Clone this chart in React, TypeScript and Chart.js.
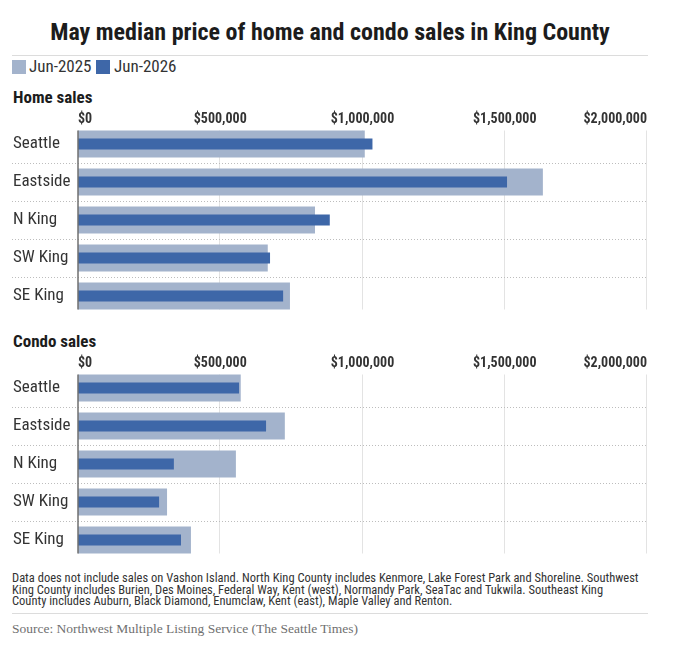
import React, { useEffect, useRef } from "react";
import { Chart, registerables } from "chart.js";

Chart.register(...registerables);

const categories = ["Seattle", "Eastside", "N King", "SW King", "SE King"];
const seriesLabels = ["Jun-2025", "Jun-2026"];
const homeJun2025 = [1008000, 1634000, 833000, 667000, 745000];
const homeJun2026 = [1035000, 1508000, 885000, 675000, 721000];
const condoJun2025 = [572000, 727000, 555000, 313000, 397000];
const condoJun2026 = [566000, 661000, 337000, 285000, 362000];
const xTicks = [0, 500000, 1000000, 1500000, 2000000];

const footLines = [
  "Data does not include sales on Vashon Island. North King County includes Kenmore, Lake Forest Park and Shoreline. Southwest",
  "King County includes Burien, Des Moines, Federal Way, Kent (west), Normandy Park, SeaTac and Tukwila. Southeast King",
  "County includes Auburn, Black Diamond, Enumclaw, Kent (east), Maple Valley and Renton.",
];
const sourceText = "Source: Northwest Multiple Listing Service (The Seattle Times)";
const titleText = "May median price of home and condo sales in King County";

const LIGHT = "#a3b3cc";
const DARK = "#3e67a8";
const NARROW =
  "'Liberation Sans Narrow', 'Roboto Condensed', 'DejaVu Sans Condensed', Roboto, sans-serif";

// Draws value gridlines (spanning the bars only), category separators and the zero axis,
// all positioned through the chart's own scales and bar elements.
const gridPlugin = {
  id: "customGrid",
  beforeDatasetsDraw(chart: any) {
    const { ctx, chartArea, scales } = chart;
    const x = scales.x;
    const y = scales.y;
    const meta = chart.getDatasetMeta(1);
    const first = meta.data[0];
    const last = meta.data[meta.data.length - 1];
    const top = first.y - first.height / 2;
    const bottom = last.y + last.height / 2;
    ctx.save();
    ctx.strokeStyle = "#e3e3e3";
    ctx.lineWidth = 1;
    xTicks.forEach((v) => {
      if (v === 0) return;
      const px = Math.round(x.getPixelForValue(v)) - 0.5;
      ctx.beginPath();
      ctx.moveTo(px, top);
      ctx.lineTo(px, bottom);
      ctx.stroke();
    });
    ctx.strokeStyle = "#bdbdbd";
    ctx.setLineDash([1, 2]);
    for (let i = 1; i < categories.length; i++) {
      const py = Math.round((y.getPixelForValue(i - 1) + y.getPixelForValue(i)) / 2) + 0.5;
      ctx.beginPath();
      ctx.moveTo(y.left - 1, py);
      ctx.lineTo(chartArea.right, py);
      ctx.stroke();
    }
    ctx.restore();
  },
  afterDatasetsDraw(chart: any) {
    const { ctx, scales } = chart;
    const x = scales.x;
    const meta = chart.getDatasetMeta(1);
    const first = meta.data[0];
    const last = meta.data[meta.data.length - 1];
    const px = x.getPixelForValue(0);
    ctx.save();
    ctx.strokeStyle = "#6f6f6f";
    ctx.lineWidth = 1.5;
    ctx.beginPath();
    ctx.moveTo(px, first.y - first.height / 2);
    ctx.lineTo(px, last.y + last.height / 2);
    ctx.stroke();
    ctx.restore();
  },
};

function Panel({ older, newer, top }: { older: number[]; newer: number[]; top: number }) {
  const ref = useRef<HTMLCanvasElement | null>(null);
  useEffect(() => {
    if (!ref.current) return;
    const chart = new Chart(ref.current, {
      type: "bar",
      data: {
        labels: categories,
        datasets: [
          {
            label: seriesLabels[1],
            data: newer,
            backgroundColor: DARK,
            barPercentage: 0.29,
            categoryPercentage: 1,
            grouped: false,
            order: 0,
          } as any,
          {
            label: seriesLabels[0],
            data: older,
            backgroundColor: LIGHT,
            barPercentage: 0.71,
            categoryPercentage: 1,
            grouped: false,
            order: 1,
          } as any,
        ],
      },
      options: {
        indexAxis: "y",
        animation: false,
        responsive: false,
        maintainAspectRatio: false,
        layout: { padding: { left: 1, right: 1, top: 0, bottom: 1 } },
        plugins: { legend: { display: false }, tooltip: { enabled: false } },
        scales: {
          x: {
            type: "linear",
            position: "top",
            min: 0,
            max: 2000000,
            afterBuildTicks: (s: any) => {
              s.ticks = xTicks.map((v) => ({ value: v }));
            },
            afterFit: (s: any) => {
              s.height = 25;
              s.paddingLeft = 0;
              s.paddingRight = 0;
            },
            ticks: {
              align: "inner",
              padding: -3,
              color: "#333",
              font: { family: NARROW, size: 14, weight: "bold" },
              callback: (v: any) => "$" + Number(v).toLocaleString("en-US"),
            },
            grid: { display: false, drawTicks: false },
            border: { display: false },
          },
          y: {
            type: "category",
            afterFit: (s: any) => {
              s.width = 65;
              s.paddingTop = 0;
              s.paddingBottom = 0;
            },
            ticks: {
              crossAlign: "far",
              padding: 0,
              color: "#333",
              font: { family: NARROW, size: 17 },
            },
            grid: { display: false, drawTicks: false },
            border: { display: false },
          },
        },
      } as any,
      plugins: [gridPlugin],
    });
    return () => chart.destroy();
  }, [older, newer]);
  return (
    <canvas
      ref={ref}
      width={636}
      height={216}
      style={{ position: "absolute", left: 4, top, width: 636, height: 216 }}
    />
  );
}

export default function App() {
  useEffect(() => {
    document.documentElement.style.overflow = "hidden";
    document.body.style.overflow = "hidden";
  }, []);
  const abs = (o: React.CSSProperties): React.CSSProperties => ({ position: "absolute", whiteSpace: "nowrap", ...o });
  return (
    <div style={{ position: "relative", width: 669, height: 629, background: "#fff", fontFamily: NARROW }}>
      <div
        style={abs({
          left: 4,
          width: 636,
          top: 12,
          textAlign: "center",
          fontWeight: "bold",
          fontSize: 24,
          lineHeight: "24px",
          color: "#1c1c1c",
        })}
      >
        {titleText}
      </div>
      <div style={abs({ left: 4, width: 636, top: 47, height: 1, background: "#dcdcdc" })} />
      <div style={abs({ left: 4, top: 52, width: 14, height: 14, background: LIGHT })} />
      <div style={abs({ left: 21, top: 51, fontSize: 17, lineHeight: "14px", color: "#333" })}>{seriesLabels[0]}</div>
      <div style={abs({ left: 88, top: 52, width: 14, height: 14, background: DARK })} />
      <div style={abs({ left: 106, top: 51, fontSize: 17, lineHeight: "14px", color: "#333" })}>{seriesLabels[1]}</div>

      <div style={abs({ left: 5, top: 80.6, fontSize: 17, lineHeight: "17px", fontWeight: "bold", color: "#1c1c1c" })}>
        Home sales
      </div>
      <Panel older={homeJun2025} newer={homeJun2026} top={92} />

      <div style={abs({ left: 5, top: 324.6, fontSize: 17, lineHeight: "17px", fontWeight: "bold", color: "#1c1c1c" })}>
        Condo sales
      </div>
      <Panel older={condoJun2025} newer={condoJun2026} top={336} />

      <div style={abs({ left: 4, top: 564.4, fontSize: 12.5, lineHeight: "11.5px", color: "#333" })}>
        {footLines.map((l, i) => (
          <div key={i}>{l}</div>
        ))}
      </div>
      <div style={abs({ left: 4, width: 636, top: 605, height: 1, background: "#dcdcdc" })} />
      <div
        style={abs({
          left: 4,
          top: 613.5,
          fontSize: 13.5,
          lineHeight: "14px",
          color: "#707070",
          fontFamily: "'Liberation Serif', 'DejaVu Serif', serif",
        })}
      >
        {sourceText}
      </div>
    </div>
  );
}
